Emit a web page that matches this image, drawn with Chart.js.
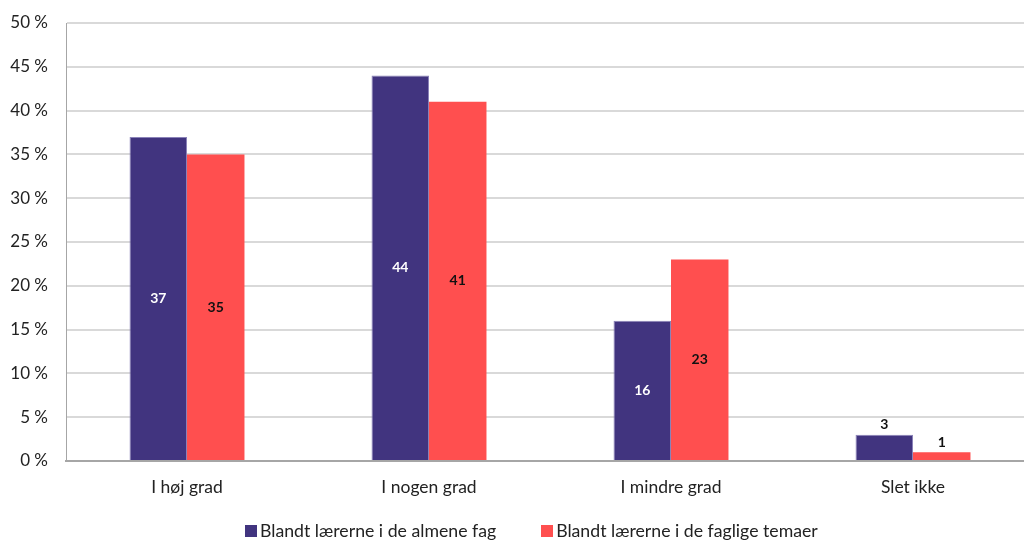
<!DOCTYPE html>
<html>
<head>
<meta charset="utf-8">
<script src="https://cdn.jsdelivr.net/npm/chart.js@4/dist/chart.umd.min.js"></script>
<style>
  html, body { margin: 0; padding: 0; background: #fff; overflow: hidden; }
  #wrap { position: relative; width: 1040px; height: 542px; }
  #legend {
    position: absolute; left: 245px; top: 520px;
    display: flex; align-items: center;
    font-family: Lato, "Noto Sans", sans-serif; font-size: 17.7px; color: #222;
    white-space: nowrap;
  }
  #legend .item { display: flex; align-items: center; margin-right: 45px; }
  #legend .box { width: 12px; height: 12px; margin-right: 3px; }
</style>
</head>
<body>
<div id="wrap">
  <canvas id="gradChart"></canvas>
  <div id="legend"></div>
</div>
<script>
const categories = ['I høj grad', 'I nogen grad', 'I mindre grad', 'Slet ikke'];
const almeneFag = [37, 44, 16, 3];
const fagligeTemaer = [35, 41, 23, 1];
const seriesNames = ['Blandt lærerne i de almene fag', 'Blandt lærerne i de faglige temaer'];
const seriesColors = ['#41347f', '#ff4f4f'];

const FONT = 'Lato, "Noto Sans", sans-serif';

// value labels: centred in the bar, or just above it when the bar is short
const barValues = {
    id: 'barValues',
    afterDatasetsDraw(chart) {
        const ctx = chart.ctx;
        ctx.save();
        ctx.font = 'bold 14px ' + FONT;
        ctx.textAlign = 'center';
        ctx.textBaseline = 'middle';
        chart.data.datasets.forEach((ds, i) => {
            chart.getDatasetMeta(i).data.forEach((bar, j) => {
                const v = ds.data[j];
                if (v < 5) {
                    ctx.fillStyle = '#111';
                    ctx.fillText(v, bar.x, bar.y - 10);
                } else {
                    ctx.fillStyle = i === 0 ? '#ffffff' : '#111';
                    ctx.fillText(v, bar.x, (bar.y + bar.base) / 2);
                }
            });
        });
        ctx.restore();
    }
};

const ctx = document.getElementById('gradChart').getContext('2d');
const gradChart = new Chart(ctx, {
    type: 'bar',
    data: {
        labels: categories,
        datasets: [{
            label: seriesNames[0],
            data: almeneFag,
            backgroundColor: seriesColors[0],
            borderColor: '#8a82b8',
            borderWidth: 1,
            categoryPercentage: 0.475,
            barPercentage: 1
        }, {
            label: seriesNames[1],
            data: fagligeTemaer,
            backgroundColor: seriesColors[1],
            borderWidth: 0,
            categoryPercentage: 0.475,
            barPercentage: 1
        }]
    },
    options: {
        responsive: true,
        maintainAspectRatio: false,
        animation: false,
        layout: { padding: { top: 23, right: 6, left: 0, bottom: 0 } },
        scales: {
            x: {
                grid: { display: false, drawTicks: false },
                border: { color: '#a6a6a6', width: 2 },
                ticks: { color: '#222', font: { family: FONT, size: 17.5 }, padding: 16 },
                afterFit: s => { s.height = 81; }
            },
            y: {
                min: 0,
                max: 50,
                ticks: {
                    stepSize: 5,
                    color: '#222',
                    font: { family: FONT, size: 17 },
                    padding: 18,
                    callback: v => v + ' %'
                },
                grid: { color: '#d9d9d9', lineWidth: 2, drawTicks: false },
                border: { color: '#a6a6a6', width: 1 },
                afterFit: s => { s.width = 66; s.paddingTop = 0; s.paddingBottom = 0; }
            }
        },
        plugins: {
            legend: { display: false },
            tooltip: { enabled: false }
        }
    },
    plugins: [barValues]
});

// legend built from the datasets
document.getElementById('legend').innerHTML = gradChart.data.datasets.map(ds =>
    '<span class="item"><span class="box" style="background:' + ds.backgroundColor + '"></span>' + ds.label + '</span>'
).join('');
</script>
</body>
</html>
